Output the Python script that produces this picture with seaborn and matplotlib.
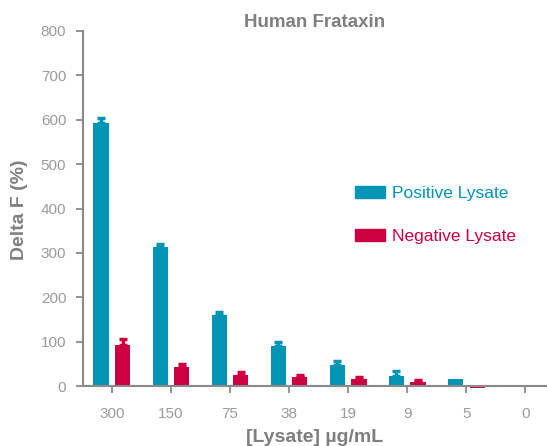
import pandas as pd
import numpy as np
import matplotlib.pyplot as plt
import seaborn as sns

# data
concentrations = ['300', '150', '75', '38', '19', '9', '5', '0']
positive_vals = [592, 313, 159, 90, 47, 22, 15, 0]
positive_err = [13, 7, 7, 9, 9, 13, 0, 0]
negative_vals = [92, 43, 25, 20, 16, 9, -4, 0]
negative_err = [13, 7, 7, 4, 5, 5, 0, 0]
series = ['Positive Lysate', 'Negative Lysate']

teal = '#0095b4'
crimson = '#cc0041'
grey = '#8a8a8a'
label_grey = '#7f7f7f'
tick_grey = '#9a9a9a'

df = pd.DataFrame({
    'conc': concentrations * 2,
    'value': positive_vals + negative_vals,
    'err': positive_err + negative_err,
    'series': [series[0]] * len(concentrations) + [series[1]] * len(concentrations),
})

sns.set_style('white')
plt.rcParams['font.family'] = ['Liberation Sans', 'DejaVu Sans']

fig = plt.figure(figsize=(5.47, 4.46), dpi=100)
# 0 sits at y=386 px, 800 at y=31 px
ax = fig.add_axes([83 / 547, 1 - 388.7 / 446, 464 / 547, 357.7 / 446])

sns.barplot(data=df, x='conc', y='value', hue='series', order=concentrations,
            hue_order=series, palette=[teal, crimson], width=0.74, gap=0.31,
            saturation=1, linewidth=0, errorbar=None, ax=ax, legend=False)

# upward-only error caps, placed on the bars seaborn drew
for cont, vals, errs, col in zip(ax.containers, [positive_vals, negative_vals],
                                 [positive_err, negative_err], [teal, crimson]):
    for bar, v, e in zip(cont, vals, errs):
        if e <= 0:
            continue
        xc = bar.get_x() + bar.get_width() / 2
        ax.errorbar(xc, v, yerr=[[0], [e]], fmt='none', ecolor=col,
                    elinewidth=2.5, capsize=3, capthick=2.5)

ax.set_xlim(-0.49, 7.37)
ax.set_ylim(-6, 800)
ax.set_yticks(range(0, 801, 100))
ax.spines['top'].set_visible(False)
ax.spines['right'].set_visible(False)
ax.spines['bottom'].set_position(('data', 0))
ax.spines['left'].set_bounds(0, 800)
for s in ['left', 'bottom']:
    ax.spines[s].set_color(grey)
    ax.spines[s].set_linewidth(1.5)
ax.tick_params(axis='both', which='both', length=5, width=1.3, color=grey,
               labelcolor=tick_grey, labelsize=11, direction='out',
               left=True, bottom=True)
ax.tick_params(axis='x', pad=10)
ax.tick_params(axis='y', pad=7)

ax.set_xlabel('[Lysate] µg/mL', fontsize=14, fontweight='bold', color=label_grey, labelpad=6)
ax.set_ylabel('Delta F (%)', fontsize=14, fontweight='bold', color=label_grey, labelpad=9)
ax.set_title('Human Frataxin', fontsize=13.5, fontweight='bold', color=label_grey, pad=-1)

handles = [plt.Rectangle((0, 0), 1, 1, color=teal), plt.Rectangle((0, 0), 1, 1, color=crimson)]
leg = ax.legend(handles, series, loc='upper left', bbox_to_anchor=(0.567, 0.59),
                frameon=False, fontsize=12.5, handlelength=1.75, handleheight=0.7,
                handletextpad=0.4, labelspacing=1.6, borderpad=0)
for txt, col in zip(leg.get_texts(), [teal, crimson]):
    txt.set_color(col)

fig.savefig('out.png', dpi=100)
